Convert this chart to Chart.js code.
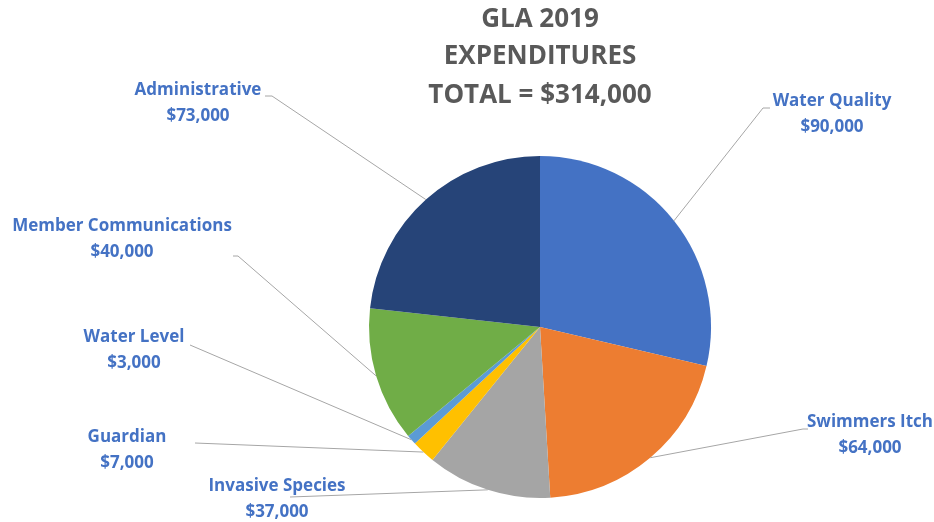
<!DOCTYPE html>
<html>
<head>
<meta charset="utf-8">
<script src="https://cdn.jsdelivr.net/npm/chart.js@4.4.0/dist/chart.umd.min.js"></script>
<style>
  html, body { margin: 0; padding: 0; background: #fff; }
  #wrap { width: 934px; height: 522px; }
</style>
</head>
<body>
<div id="wrap"><canvas id="myChart" width="934" height="522"></canvas></div>
<script>
// chart data
var categories = ['Water Quality', 'Swimmers Itch', 'Invasive Species', 'Guardian', 'Water Level', 'Member Communications', 'Administrative'];
var amounts = [90000, 64000, 37000, 7000, 3000, 40000, 73000];
var titleLines = ['GLA 2019', 'EXPENDITURES', 'TOTAL = $314,000'];

var colors = ['#4472C4', '#ED7D31', '#A5A5A5', '#FFC000', '#5B9BD5', '#70AD47', '#264478'];

// where each label sits (text centre) and where its leader line bends
var labelSpots = [
    { x: 832, y: 101, elbow: [[770, 108], [763, 108]] },
    { x: 870, y: 422, elbow: [[808, 429], [803, 429]] },
    { x: 277, y: 486, elbow: [[290, 497]] },
    { x: 127, y: 437, elbow: [[195, 443]] },
    { x: 134, y: 337, elbow: [[190, 345]] },
    { x: 122, y: 226, elbow: [[233, 256], [238, 256]] },
    { x: 198, y: 90,  elbow: [[265, 96], [272, 96]] }
];

function money(v) {
    return '$' + v.toLocaleString('en-US');
}

var labelPlugin = {
    id: 'pieLabels',
    afterDatasetsDraw: function(chart) {
        var ctx = chart.ctx;
        var arcs = chart.getDatasetMeta(0).data;
        ctx.save();
        // leader lines
        ctx.strokeStyle = '#A6A6A6';
        ctx.lineWidth = 1;
        arcs.forEach(function(arc, i) {
            var p = arc.getProps(['x', 'y', 'startAngle', 'endAngle', 'outerRadius'], true);
            var mid = (p.startAngle + p.endAngle) / 2;
            var ex = p.x + Math.cos(mid) * p.outerRadius;
            var ey = p.y + Math.sin(mid) * p.outerRadius;
            var pts = labelSpots[i].elbow;
            ctx.beginPath();
            ctx.moveTo(pts[0][0], pts[0][1]);
            for (var k = 1; k < pts.length; k++) ctx.lineTo(pts[k][0], pts[k][1]);
            ctx.lineTo(ex, ey);
            ctx.stroke();
        });
        // label text
        ctx.fillStyle = '#4472C4';
        ctx.font = 'bold 17px "Open Sans"';
        ctx.textAlign = 'center';
        ctx.textBaseline = 'middle';
        arcs.forEach(function(arc, i) {
            var s = labelSpots[i];
            ctx.fillText(categories[i], s.x, s.y);
            ctx.fillText(money(amounts[i]), s.x, s.y + 26);
        });
        // title over the pie
        var cx = arcs[0].x;
        ctx.fillStyle = '#595959';
        ctx.font = 'bold 26px "Open Sans"';
        ctx.fillText(titleLines[0], cx, 20);
        ctx.fillText(titleLines[1], cx, 57);
        ctx.fillText(titleLines[2], cx, 96);
        ctx.restore();
    }
};

var ctx = document.getElementById('myChart').getContext('2d');
var chart = new Chart(ctx, {
    type: 'pie',
    data: {
        labels: categories,
        datasets: [{
            data: amounts,
            backgroundColor: colors,
            borderWidth: 0
        }]
    },
    options: {
        responsive: false,
        animation: false,
        layout: { padding: { top: 156, bottom: 24, left: 369, right: 223 } },
        plugins: {
            legend: { display: false },
            tooltip: { enabled: false },
            title: { display: false }
        }
    },
    plugins: [labelPlugin]
});
</script>
</body>
</html>
